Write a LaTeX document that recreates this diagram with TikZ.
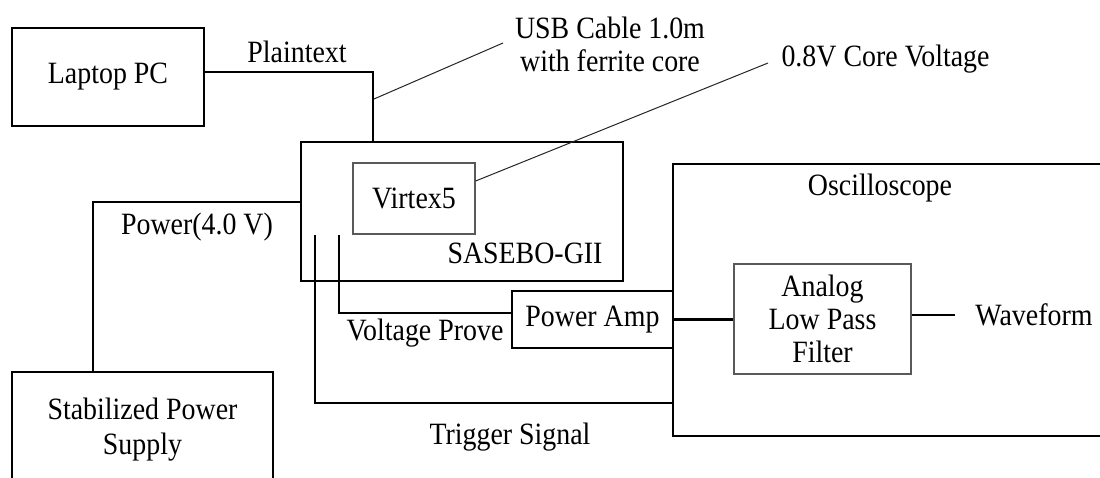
\documentclass[tikz,border=0pt]{standalone}
\usepackage{fontspec}
\setmainfont[FakeStretch=0.9]{Liberation Serif}
\begin{document}
\begin{tikzpicture}[x=1pt,y=-1pt,
  every node/.style={font=\fontsize{31}{34}\selectfont, inner sep=2pt},
  box/.style={draw=black, line width=2pt, fill=none},
  thinbox/.style={draw=black!65, line width=1.3pt},
  wire/.style={draw=black, line width=2.4pt},
  leader/.style={draw=black!85, line width=1pt},
  lbl/.style={align=center}]
\useasboundingbox (0,0) rectangle (1100,477);
\clip (0,0) rectangle (1100,477);
\fill[white] (0,0) rectangle (1100,477);

% boxes
\node[box, minimum width=192pt, minimum height=98pt] (lap) at (108,77) {Laptop PC};
\node[box, minimum width=322pt, minimum height=139pt] (sas) at (462,211.5) {};
\node[thinbox, minimum width=122pt, minimum height=71pt] (vir) at (414,198.5) {Virtex5};
\node[lbl] (saslbl) at (525,253) {SASEBO-GII};
\node[box, minimum width=261pt, minimum height=124pt] (sps) at (142.5,434) {};
\node[lbl] (spslbl) at (142.5,430) {Stabilized Power\\[1pt]Supply};
\node[box, minimum width=440pt, minimum height=272pt] (osc) at (893,300) {};
\node[lbl] (osclbl) at (880,188) {Oscilloscope};
\node[box, line width=1.6pt, minimum width=161pt, minimum height=57pt] (amp) at (592.5,319.5) {Power Amp};
\node[thinbox, minimum width=177pt, minimum height=110pt, align=center] (lpf) at (822.5,319) {Analog\\[-1pt]Low Pass\\[-1pt]Filter};
\node[lbl] (wf) at (1034,315) {Waveform};

% labels
\node[lbl] (plain) at (297,52) {Plaintext};
\node[lbl] (pwr) at (197,227) {Power(4.0 V)};
\node[lbl] (vp) at (425,333) {Voltage Prove};
\node[lbl] (trig) at (510,437) {Trigger Signal};
\node[lbl] (usb) at (610,44) {USB Cable 1.0m\\[-1pt]with ferrite core};
\node[lbl, anchor=base] (core) at (885.5,66) {0.8V Core Voltage};

% wires
\coordinate (pt) at (373,72);
\draw[wire] (lap.east |- pt) -- (pt) -- (pt |- sas.north);
\coordinate (pw) at (93,202);
\draw[wire] (sas.west |- pw) -- (pw) -- (pw |- sps.north);
\coordinate (pv) at (339,235);
\coordinate (pvb) at (339,313);
\draw[wire] (pv) -- (pvb) -- (amp.west |- pvb);
\coordinate (tg) at (315,235);
\coordinate (tgb) at (315,403);
\draw[wire] (tg) -- (tgb) -- (osc.west |- tgb);
\draw[wire] (amp.east) -- (amp.east -| lpf.west);
\coordinate (wfe) at (955,315);
\draw[wire] (lpf.east |- wfe) -- (wfe);

% leaders
\coordinate (usbs) at (374,99);
\coordinate (usbe) at (503,43);
\draw[leader] (usbs) -- (usbe);
\coordinate (cores) at (vir.east |- 0,181);
\coordinate (coree) at (768,63);
\draw[leader] (cores) -- (coree);
\end{tikzpicture}
\end{document}
